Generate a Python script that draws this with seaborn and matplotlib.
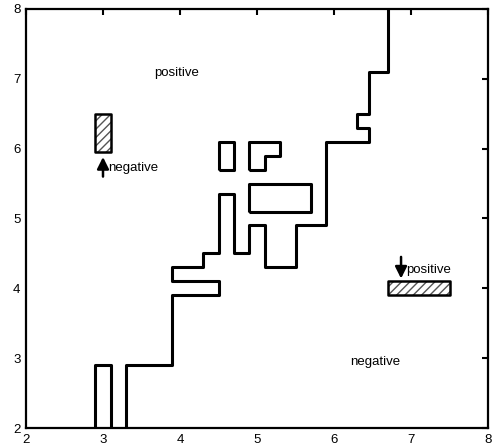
import pandas as pd
import seaborn as sns
import matplotlib
matplotlib.use("Agg")
from matplotlib import pyplot as plt
from matplotlib.patches import Rectangle

# decision boundary (step polyline from bottom to top)
main_x = [3.3, 3.3, 3.9, 3.9, 4.5, 4.5, 3.9, 3.9, 4.3, 4.3, 4.5, 4.5, 4.7, 4.7, 4.9,
          4.9, 5.1, 5.1, 5.5, 5.5, 5.9, 5.9, 6.45, 6.45, 6.3, 6.3, 6.45, 6.45, 6.7, 6.7]
main_y = [2.0, 2.9, 2.9, 3.9, 3.9, 4.1, 4.1, 4.3, 4.3, 4.5, 4.5, 5.35, 5.35, 4.5, 4.5,
          4.9, 4.9, 4.3, 4.3, 4.9, 4.9, 6.1, 6.1, 6.3, 6.3, 6.5, 6.5, 7.1, 7.1, 8.0]

# small islands
u_x = [2.9, 2.9, 3.1, 3.1]
u_y = [2.0, 2.9, 2.9, 2.0]
box_x = [4.5, 4.5, 4.7, 4.7, 4.5]
box_y = [5.7, 6.1, 6.1, 5.7, 5.7]
ell_x = [4.9, 4.9, 5.3, 5.3, 5.1, 5.1, 4.9]
ell_y = [5.7, 6.1, 6.1, 5.9, 5.9, 5.7, 5.7]
bar_x = [4.9, 4.9, 5.7, 5.7, 4.9]
bar_y = [5.1, 5.5, 5.5, 5.1, 5.1]

# hatched examples: (x, y, width, height)
hatched = [(2.9, 5.95, 0.2, 0.55), (6.7, 3.9, 0.8, 0.2)]

rows = []
for name, xs, ys in [("main", main_x, main_y), ("u", u_x, u_y), ("box", box_x, box_y),
                     ("ell", ell_x, ell_y), ("bar", bar_x, bar_y)]:
    for i, (x, y) in enumerate(zip(xs, ys)):
        rows.append({"shape": name, "order": i, "x": x, "y": y})
df = pd.DataFrame(rows)

sns.set_style("white")
plt.rcParams['font.family'] = ['Liberation Sans', 'DejaVu Sans']
plt.rcParams['text.color'] = 'black'

fig = plt.figure(figsize=(4.95, 4.48), dpi=100)
ax = fig.add_axes([0.0525, 0.0446, 0.9335, 0.9354])

sns.lineplot(data=df, x="x", y="y", units="shape", estimator=None, sort=False,
             color="black", lw=2.2, ax=ax, legend=False)
for line in ax.get_lines():
    line.set_solid_joinstyle("round")
    line.set_solid_capstyle("butt")

for (x0, y0, w, h) in hatched:
    ax.add_patch(Rectangle((x0, y0), w, h, facecolor="white", edgecolor="#555555",
                           hatch="////", lw=0, zorder=3))
    ax.add_patch(Rectangle((x0, y0), w, h, facecolor="none", edgecolor="black",
                           lw=1.8, joinstyle="round", zorder=4))

arrow = dict(arrowstyle="-|>,head_length=0.7,head_width=0.35", color="black", lw=1.8,
             shrinkA=0, shrinkB=0)
ax.annotate("", xy=(3.0, 5.88), xytext=(3.0, 5.6), arrowprops=arrow)
ax.annotate("", xy=(6.87, 4.14), xytext=(6.87, 4.45), arrowprops=arrow)

ax.text(3.07, 5.73, "negative", fontsize=9.5, ha="left", va="center", color="black")
ax.text(6.94, 4.26, "positive", fontsize=9.5, ha="left", va="center", color="black")
ax.text(3.96, 7.09, "positive", fontsize=9.5, ha="center", va="center", color="black")
ax.text(6.53, 2.95, "negative", fontsize=9.5, ha="center", va="center", color="black")

ax.set_xlim(2, 8)
ax.set_ylim(2, 8)
ax.set_xticks(range(2, 9))
ax.set_yticks(range(2, 9))
ax.set_xlabel("")
ax.set_ylabel("")
ax.tick_params(direction="in", length=4, width=1.5, top=True, right=True,
               labelsize=9.5, colors="black", pad=4)
for s in ax.spines.values():
    s.set_linewidth(1.6)
    s.set_color("black")

fig.savefig("out.png", dpi=100)
